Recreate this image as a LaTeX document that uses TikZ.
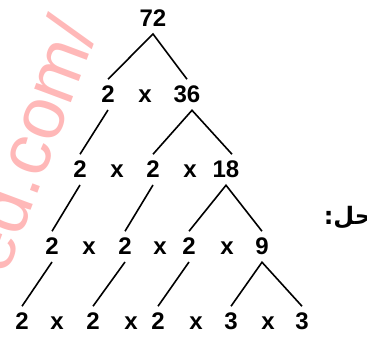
\documentclass[tikz,border=0pt]{standalone}
\usepackage{fontspec}
\setmainfont{Liberation Sans}
\newfontfamily\arabicfont[Script=Arabic]{DejaVu Sans}
\TeXXeTstate=1
\begin{document}
\begin{tikzpicture}[x=1pt, y=-1pt,
  num/.style={font=\fontsize{24}{24}\selectfont\bfseries, inner sep=0pt, outer sep=7pt, anchor=base},
  times/.style={font=\fontsize{24}{24}\selectfont\bfseries, inner sep=0pt, anchor=base},
  branch/.style={line width=1.6pt}]
  \useasboundingbox (0,0) rectangle (367,339);
  % Faint watermark
  \node[text=red!28, font=\fontsize{74}{74}\selectfont, rotate=69.5, anchor=base east] (mark) at (100,27) {ed.com/};
  % 72
  \node[num] (top) at (153,27) {72};
  % 2 x 36
  \node[num] (p1) at (108,103) {2};
  \node[times] (t1) at (145,103) {x};
  \node[num] (q1) at (187,103) {36};
  % 2 x 2 x 18
  \node[num] (p2a) at (80,178) {2};
  \node[times] (t2a) at (117,178) {x};
  \node[num] (p2b) at (153,178) {2};
  \node[times] (t2b) at (190,178) {x};
  \node[num] (q2) at (226,178) {18};
  % 2 x 2 x 2 x 9
  \node[num] (p3a) at (52,255) {2};
  \node[times] (t3a) at (89,255) {x};
  \node[num] (p3b) at (125,255) {2};
  \node[times] (t3b) at (160,255) {x};
  \node[num] (p3c) at (189,255) {2};
  \node[times] (t3c) at (227,255) {x};
  \node[num] (q3) at (262,255) {9};
  % 2 x 2 x 2 x 3 x 3
  \node[num] (p4a) at (22,330) {2};
  \node[times] (t4a) at (57,330) {x};
  \node[num] (p4b) at (93,330) {2};
  \node[times] (t4b) at (131,330) {x};
  \node[num] (p4c) at (158,330) {2};
  \node[times] (t4c) at (196,330) {x};
  \node[num] (p4d) at (231,330) {3};
  \node[times] (t4d) at (268,330) {x};
  \node[num] (p4e) at (302,330) {3};
  % branches
  \draw[branch] (p1.north) -- (top.south) -- (q1.north);
  \draw[branch] (p1.south) -- (p2a.north);
  \draw[branch] (p2b.north) -- ([xshift=5pt]q1.south) -- ([xshift=6pt]q2.north);
  \draw[branch] (p2a.south) -- (p3a.north);
  \draw[branch] (p2b.south) -- (p3b.north);
  \draw[branch] (p3c.north) -- (q2.south) -- (q3.north);
  \draw[branch] (p3a.south) -- (p4a.north);
  \draw[branch] (p3b.south) -- (p4b.north);
  \draw[branch] (p3c.south) -- (p4c.north);
  \draw[branch] (p4d.north) -- (q3.south) -- (p4e.north);
  % Arabic label
  \node[font=\arabicfont\bfseries\fontsize{24}{24}\selectfont] (sol) at (348,218) {\beginR حل:\endR};
\end{tikzpicture}
\end{document}
